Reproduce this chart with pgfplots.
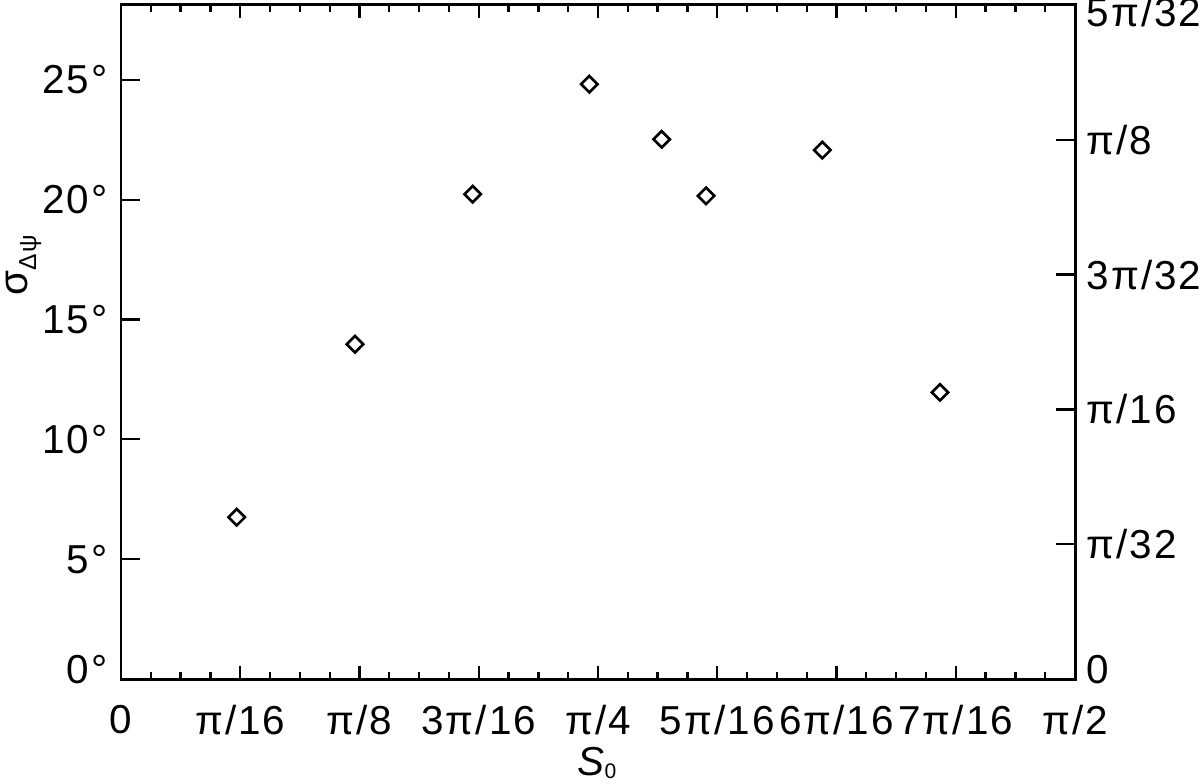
\documentclass[border=0pt]{standalone}
\usepackage{fontspec}
\setmainfont[LetterSpace=5]{Liberation Sans}
\usepackage{pgfplots}
\pgfplotsset{compat=1.18}

\pgfplotsset{
  frame/.style={scale only axis, width=9.54cm, height=6.74cm,
    xmin=0, xmax=8, ymin=0, ymax=28.125, tick align=inside,
    every tick/.style={black, line width=0.65pt}},
}

\begin{document}
\fontsize{11.5}{13}\selectfont
\begin{tikzpicture}
% main box: x ticks, data
\begin{axis}[frame, name=main,
  axis line style={line width=0.85pt},
  xtick={0,...,8},
  xticklabels={0,π/16,π/8,3π/16,π/4,5π/16,6π/16,7π/16,π/2},
  minor x tick num=3, xtick pos=both,
  major tick length=0.13cm, minor tick length=0.07cm,
  ytick=\empty,
  xticklabel style={anchor=north, inner sep=0pt, yshift=-0.26cm},
  xlabel={\itshape S\upshape{\fontsize{9}{10}\selectfont\textsubscript{0}}},
  xlabel style={at={(rel axis cs:0.5,0)}, anchor=base, inner sep=0pt, yshift=-0.96cm},
]
\addplot[only marks, mark=square, mark size=1.65pt,
  mark options={rotate=45, line width=0.75pt, black}] coordinates {
  (0.970, 6.75) (1.962, 13.97) (2.949, 20.23) (3.927, 24.82)
  (4.534, 22.52) (4.906, 20.16) (5.881, 22.07) (6.868, 11.96)
};
\end{axis}
% left axis: degrees
\begin{axis}[frame, hide x axis, y axis line style={draw=none},
  ytick pos=left, major tick length=0.19cm,
  ytick={0,5,10,15,20,25},
  yticklabels={\raisebox{0.2cm}{0°},5°,10°,15°,20°,25°},
  yticklabel style={anchor=east, inner sep=0pt, xshift=-0.13cm},
  ylabel={σ{\fontsize{7}{8}\selectfont\raisebox{-2.5pt}{Δψ}}},
  ylabel style={at={(rel axis cs:-0.102,0.614)}, anchor=center, inner sep=0pt},
]
\end{axis}
% right axis: radians
\begin{axis}[frame, hide x axis, y axis line style={draw=none},
  ytick pos=right, yticklabel pos=right, major tick length=0.19cm,
  ytick={0,5.625,11.25,16.875,22.5,28.125},
  yticklabels={\raisebox{0.2cm}{0},π/32,π/16,3π/32,π/8,\raisebox{-0.44cm}{5π/32}},
  yticklabel style={anchor=west, inner sep=0pt, xshift=0.11cm},
]
\end{axis}
\pgfresetboundingbox
\path[use as bounding box] ([xshift=-1.21cm,yshift=-1.04cm]main.south west)
  rectangle ([xshift=1.25cm,yshift=0.05cm]main.north east);
\end{tikzpicture}
\end{document}
